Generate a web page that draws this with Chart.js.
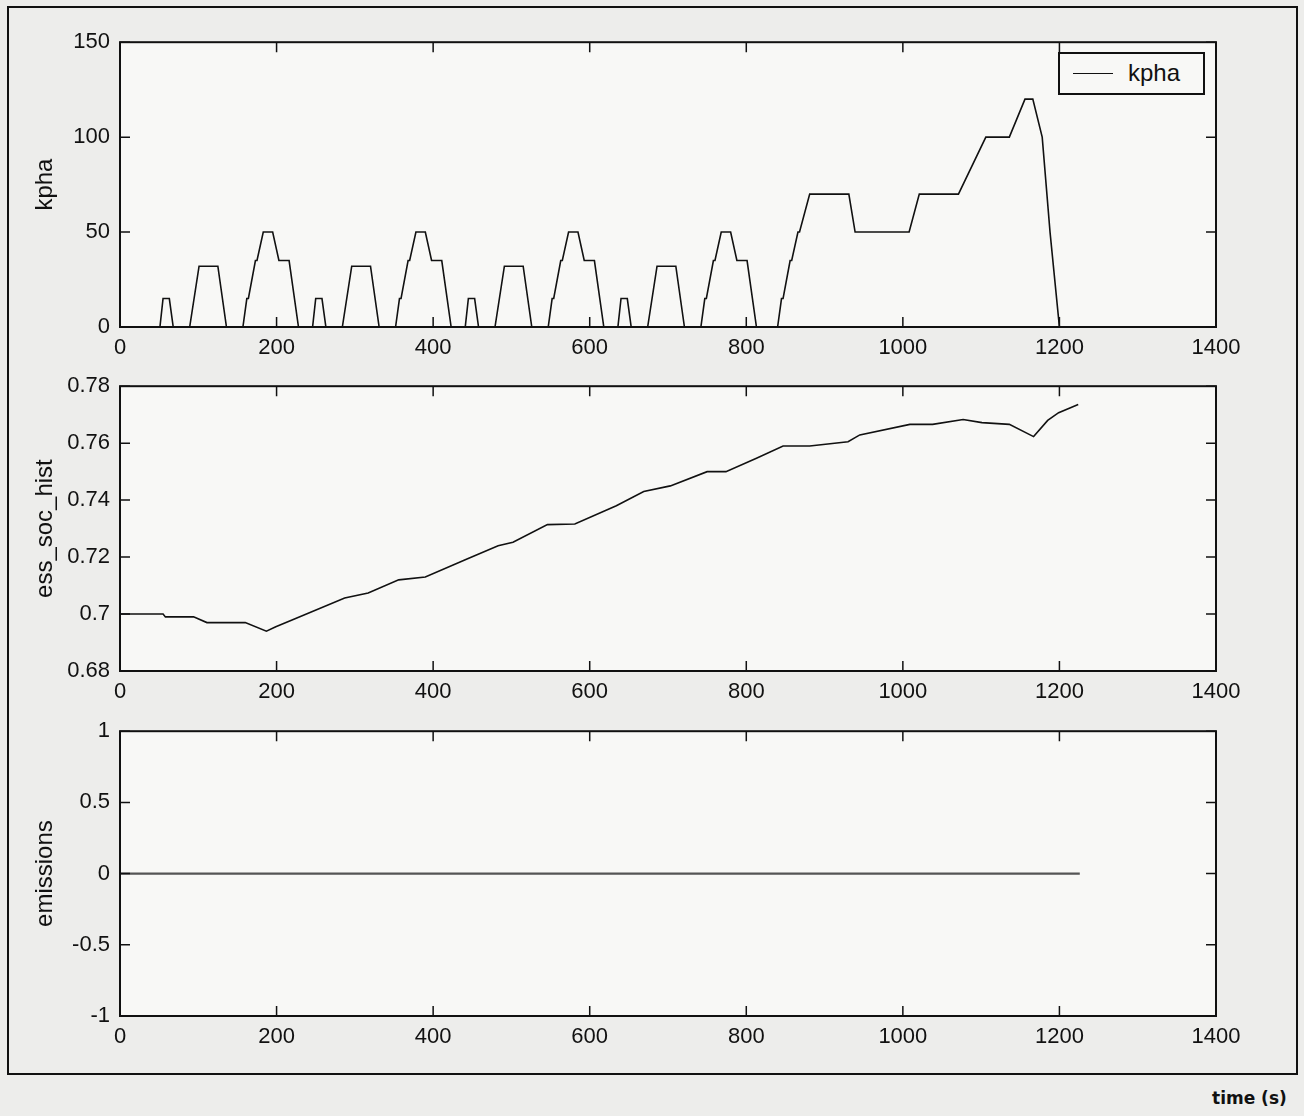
<!DOCTYPE html>
<html>
<head>
<meta charset="utf-8">
<script src="https://cdn.jsdelivr.net/npm/chart.js@4.4.1/dist/chart.umd.min.js"></script>
<style>
    html, body { margin: 0; padding: 0; }
    body { width: 1304px; height: 1116px; background: #ededeb; position: relative; overflow: hidden;
           font-family: "Liberation Sans", Arial, sans-serif; }
    .frame { position: absolute; left: 7px; top: 6px; width: 1287px; height: 1065px; border: 2px solid #111; }
    .plot { position: absolute; left: 0; width: 1304px; height: 353px; }
    .legend { position: absolute; left: 1058px; top: 52px; width: 143px; height: 39px; border: 2px solid #111;
              background: #f8f8f6; font-size: 24px; color: #111; }
    .legend .swatch { position: absolute; left: 13px; top: 19px; width: 40px; border-top: 1.5px solid #111; }
    .legend .txt { position: absolute; left: 68px; top: 5px; }
    .xlabel { position: absolute; left: 1212px; top: 1088px; font-family: "DejaVu Sans", sans-serif;
              font-weight: bold; font-size: 17px; color: #111; }
</style>
</head>
<body>
<div class="frame"></div>
<canvas id="c1" class="plot" style="top:19px"></canvas>
<canvas id="c2" class="plot" style="top:363px"></canvas>
<canvas id="c3" class="plot" style="top:708px"></canvas>
<div class="legend"><div class="swatch"></div><div class="txt" id="legend-txt"></div></div>
<div class="xlabel">time (s)</div>

<script>
// ---------------- DATA ----------------
const xTicks = [0, 200, 400, 600, 800, 1000, 1200, 1400];

// speed trace (4 urban cycles + extra-urban part), breakpoints
const kphaTime = [
    0, 51, 55, 63, 68, 89, 101, 125, 136, 157, 162, 164, 173, 175, 183, 195, 203, 216, 228,
    246, 250, 258, 263, 284, 296, 320, 331, 352, 357, 359, 368, 370, 378, 390, 398, 411, 423,
    441, 445, 453, 458, 479, 491, 515, 526, 547, 552, 554, 563, 565, 573, 585, 593, 606, 618,
    636, 640, 648, 653, 674, 686, 710, 721, 742, 747, 749, 758, 760, 768, 780, 788, 801, 813,
    840, 845, 847, 856, 858, 866, 868, 881, 931, 939, 1008, 1021, 1071, 1106, 1136, 1156, 1166, 1178, 1188, 1200, 1220
];
const kphaValue = [
    0, 0, 15, 15, 0, 0, 32, 32, 0, 0, 15, 15, 35, 35, 50, 50, 35, 35, 0,
    0, 15, 15, 0, 0, 32, 32, 0, 0, 15, 15, 35, 35, 50, 50, 35, 35, 0,
    0, 15, 15, 0, 0, 32, 32, 0, 0, 15, 15, 35, 35, 50, 50, 35, 35, 0,
    0, 15, 15, 0, 0, 32, 32, 0, 0, 15, 15, 35, 35, 50, 50, 35, 35, 0,
    0, 15, 15, 35, 35, 50, 50, 70, 70, 50, 50, 70, 70, 100, 100, 120, 120, 100, 50, 0, 0
];
const kphaTicks = [0, 50, 100, 150];

// battery state of charge
const socTime = [
    0, 55, 58, 94, 111, 160, 187, 199, 219, 287, 317, 356, 390, 444, 483, 502, 546, 581, 634, 669, 703,
    750, 774, 813, 847, 881, 930, 945, 1009, 1038, 1077, 1101, 1136, 1167, 1185, 1199, 1224
];
const socValue = [
    0.700, 0.700, 0.699, 0.699, 0.697, 0.697, 0.694, 0.6955, 0.6978, 0.7056, 0.7074, 0.712, 0.713, 0.7194,
    0.724, 0.7252, 0.7314, 0.7316, 0.738, 0.743, 0.745,
    0.750, 0.750, 0.7547, 0.759, 0.759, 0.7605, 0.7629, 0.7666, 0.7666, 0.7683, 0.7672, 0.7666, 0.7623,
    0.768, 0.7707, 0.7736
];
const socTicks = [0.68, 0.70, 0.72, 0.74, 0.76, 0.78];

const emisTime = [0, 1226];
const emisValue = [0, 0];
const emisTicks = [-1, -0.5, 0, 0.5, 1];

// ---------------- HELPERS ----------------
const TICK_FONT = { family: '"Liberation Sans", Arial, sans-serif', size: 22 };
const TITLE_FONT = { family: '"Liberation Sans", Arial, sans-serif', size: 24 };

// plot background + matlab style box with inward ticks
const boxPlugin = {
    id: 'box',
    beforeDatasetsDraw(chart) {
        const a = chart.chartArea;
        const ctx = chart.ctx;
        ctx.save();
        ctx.fillStyle = '#f8f8f6';
        ctx.fillRect(a.left, a.top, a.right - a.left, a.bottom - a.top);
        ctx.restore();
    },
    afterDatasetsDraw(chart) {
        const a = chart.chartArea;
        const ctx = chart.ctx;
        const xs = chart.scales.x, ys = chart.scales.y;
        ctx.save();
        ctx.strokeStyle = '#111';
        ctx.lineWidth = 2;
        ctx.strokeRect(a.left, a.top, a.right - a.left, a.bottom - a.top);
        ctx.lineWidth = 1.5;
        ctx.beginPath();
        xs.ticks.forEach(t => {
            const px = xs.getPixelForValue(t.value);
            ctx.moveTo(px, a.bottom); ctx.lineTo(px, a.bottom - 10);
            ctx.moveTo(px, a.top); ctx.lineTo(px, a.top + 10);
        });
        ys.ticks.forEach(t => {
            const py = ys.getPixelForValue(t.value);
            ctx.moveTo(a.left, py); ctx.lineTo(a.left + 10, py);
            ctx.moveTo(a.right, py); ctx.lineTo(a.right - 10, py);
        });
        ctx.stroke();
        ctx.restore();
    }
};

function makePlot(id, label, times, values, yTicks, color, width) {
    const pts = times.map((t, i) => ({ x: t, y: values[i] }));
    return new Chart(document.getElementById(id), {
        type: 'line',
        data: { datasets: [{ label, data: pts, borderColor: color, borderWidth: width,
                             pointRadius: 0, tension: 0, fill: false }] },
        options: {
            responsive: false,
            animation: false,
            layout: { padding: { left: 0, right: 88, top: 15, bottom: 0 } },
            plugins: { legend: { display: false }, tooltip: { enabled: false } },
            scales: {
                x: {
                    type: 'linear', min: 0, max: 1400,
                    afterBuildTicks: s => { s.ticks = xTicks.map(v => ({ value: v })); },
                    afterFit: s => { s.height = 45; },
                    grid: { display: false, drawTicks: false },
                    border: { display: false },
                    ticks: { color: '#111', font: TICK_FONT, padding: 8, maxRotation: 0,
                             callback: v => String(v) }
                },
                y: {
                    type: 'linear', min: yTicks[0], max: yTicks[yTicks.length - 1],
                    afterBuildTicks: s => { s.ticks = yTicks.map(v => ({ value: v })); },
                    afterFit: s => { s.width = 120; },
                    grid: { display: false, drawTicks: false },
                    border: { display: false },
                    title: { display: true, text: label, color: '#111', font: TITLE_FONT, padding: { top: 31 } },
                    ticks: { color: '#111', font: TICK_FONT, padding: 10,
                             callback: v => String(+v.toFixed(2)) }
                }
            }
        },
        plugins: [boxPlugin]
    });
}

// ---------------- CHARTS ----------------
[1, 2, 3].forEach(i => {
    const c = document.getElementById('c' + i);
    c.width = 1304; c.height = 353;
});

makePlot('c1', 'kpha', kphaTime, kphaValue, kphaTicks, '#111', 1.6);
makePlot('c2', 'ess_soc_hist', socTime, socValue, socTicks, '#111', 1.6);
makePlot('c3', 'emissions', emisTime, emisValue, emisTicks, '#555', 2.2);

document.getElementById('legend-txt').innerText = 'kpha';
</script>
</body>
</html>
